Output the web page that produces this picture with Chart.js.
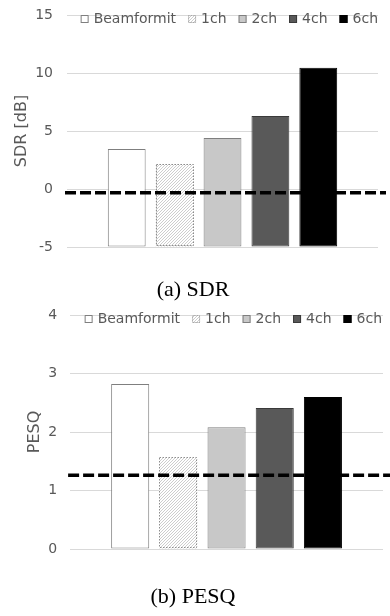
<!DOCTYPE html>
<html>
<head>
<meta charset="utf-8">
<script src="https://cdn.jsdelivr.net/npm/chart.js@4.4.1/dist/chart.umd.min.js"></script>
<style>
  body { margin: 0; background: #fff; }
  #wrap { position: relative; width: 390px; height: 616px; }
  canvas { position: absolute; left: 0; }
  .cap { position: absolute; left: 0; width: 386px; text-align: center; font-family: "Liberation Serif", serif; font-size: 22px; line-height: 22px; color: #000; }
</style>
</head>
<body>
<div id="wrap">
  <canvas id="sdrChart" width="390" height="300" style="top:0"></canvas>
  <div class="cap" style="top:278px">(a) SDR</div>
  <canvas id="pesqChart" width="390" height="316" style="top:300px"></canvas>
  <div class="cap" style="top:585px">(b) PESQ</div>
</div>
<script>
// values
var seriesNames = ["Beamformit", "1ch", "2ch", "4ch", "6ch"];
var sdrValues = [3.45, 2.13, 4.4, 6.3, 10.45];
var pesqValues = [2.82, 1.57, 2.08, 2.41, 2.6];
var sdrTicks = [-5, 0, 5, 10, 15];
var pesqTicks = [0, 1, 2, 3, 4];
var sdrDashed = -0.32; // dashed reference level
var pesqDashed = 1.26;

var textGray = "#595959";
var fillColors = ["#ffffff", null, "#c8c8c8", "#595959", "#000000"];
var borderColors = ["#7f7f7f", "#8c8c8c", "#7f7f7f", "#3a3a3a", "#000000"];

Chart.defaults.font.family = "'DejaVu Sans', sans-serif";
Chart.defaults.color = textGray;

// fine diagonal hatch for the 1ch bar (3px period, pixel exact)
function makeHatch() {
  var c = document.createElement("canvas");
  c.width = 3;
  c.height = 3;
  var g = c.getContext("2d");
  g.fillStyle = "#fff";
  g.fillRect(0, 0, 3, 3);
  g.fillStyle = "#cdcdcd";
  g.fillRect(2, 0, 1, 1);
  g.fillRect(1, 1, 1, 1);
  g.fillRect(0, 2, 1, 1);
  return g.createPattern(c, "repeat");
}
var hatch = makeHatch();

function makeDatasets(values, base) {
  return seriesNames.map(function (name, i) {
    var ds = {
      label: name,
      data: [values[i]],
      backgroundColor: i === 1 ? hatch : fillColors[i],
      borderColor: borderColors[i],
      borderWidth: i === 1 ? 0 : 1,
      borderSkipped: false,
      categoryPercentage: 0.77,
      barPercentage: 0.79
    };
    if (base !== undefined) ds.base = base;
    return ds;
  });
}

// dotted outline on 1ch, dashed level line, legend inside the top of the plot
var extras = {
  id: "extras",
  afterDatasetsDraw: function (chart, args, opts) {
    var ctx = chart.ctx;
    var area = chart.chartArea;
    var p = chart.getDatasetMeta(1).data[0].getProps(["x", "y", "base", "width"], true);
    ctx.save();
    ctx.strokeStyle = "#8c8c8c";
    ctx.lineWidth = 1;
    ctx.setLineDash([1.5, 1.5]);
    ctx.strokeRect(Math.round(p.x - p.width / 2) + 0.5, Math.round(p.y) + 0.5, Math.round(p.width) - 1, Math.round(p.base - p.y) - 1);

    var yy = chart.scales.y.getPixelForValue(opts.level);
    ctx.setLineDash([11, 4]);
    ctx.lineWidth = 3.5;
    ctx.strokeStyle = "#000";
    ctx.beginPath();
    ctx.moveTo(area.left - 2, yy);
    ctx.lineTo(opts.lineEnd, yy);
    ctx.stroke();
    ctx.restore();
  },
  afterDraw: function (chart, args, opts) {
    var ctx = chart.ctx;
    var area = chart.chartArea;
    var ds = chart.data.datasets;
    var boxW = 8, gapText = 5, gapItem = 12;
    ctx.save();
    ctx.font = "14px 'DejaVu Sans'";
    ctx.textBaseline = "middle";
    var widths = ds.map(function (d) { return ctx.measureText(d.label).width; });
    var total = gapItem * (ds.length - 1);
    widths.forEach(function (w) { total += boxW + gapText + w; });
    var x = area.right + opts.legendShift - total;
    var y = area.top + 4;
    ds.forEach(function (d, i) {
      ctx.fillStyle = d.backgroundColor;
      ctx.fillRect(x, y - 4, boxW, boxW);
      ctx.strokeStyle = d.borderColor;
      ctx.lineWidth = 1;
      if (i === 1) ctx.setLineDash([1, 1]);
      ctx.strokeRect(x + 0.5, y - 3.5, boxW - 1, boxW - 1);
      ctx.setLineDash([]);
      ctx.fillStyle = textGray;
      ctx.fillText(d.label, x + boxW + gapText, y);
      x += boxW + gapText + widths[i] + gapItem;
    });
    ctx.restore();
  }
};

function makeChart(id, values, ticks, level, axisTitle, padding, tickGap, lineEnd, legendShift, base) {
  return new Chart(document.getElementById(id), {
    type: "bar",
    data: { labels: [""], datasets: makeDatasets(values, base) },
    options: {
      responsive: false,
      animation: false,
      layout: { padding: padding },
      plugins: {
        legend: { display: false },
        tooltip: { enabled: false },
        extras: { level: level, lineEnd: lineEnd, legendShift: legendShift }
      },
      scales: {
        x: { display: false },
        y: {
          min: ticks[0],
          max: ticks[ticks.length - 1],
          ticks: { stepSize: ticks[1] - ticks[0], padding: 0, font: { size: 14 }, color: textGray },
          grid: { color: "#d9d9d9", drawTicks: true, tickLength: tickGap, tickColor: "rgba(0,0,0,0)" },
          border: { display: false },
          title: { display: true, text: axisTitle, font: { size: 16 }, color: textGray }
        }
      }
    },
    plugins: [extras]
  });
}

var sdrChart = makeChart("sdrChart", sdrValues, sdrTicks, sdrDashed, "SDR [dB]",
  { left: 8, right: 12, top: 15, bottom: 53 }, 14, 386, 0, sdrTicks[0]);
var pesqChart = makeChart("pesqChart", pesqValues, pesqTicks, pesqDashed, "PESQ",
  { left: 21, right: 7, top: 15, bottom: 67 }, 13, 390, -1);
</script>
</body>
</html>
